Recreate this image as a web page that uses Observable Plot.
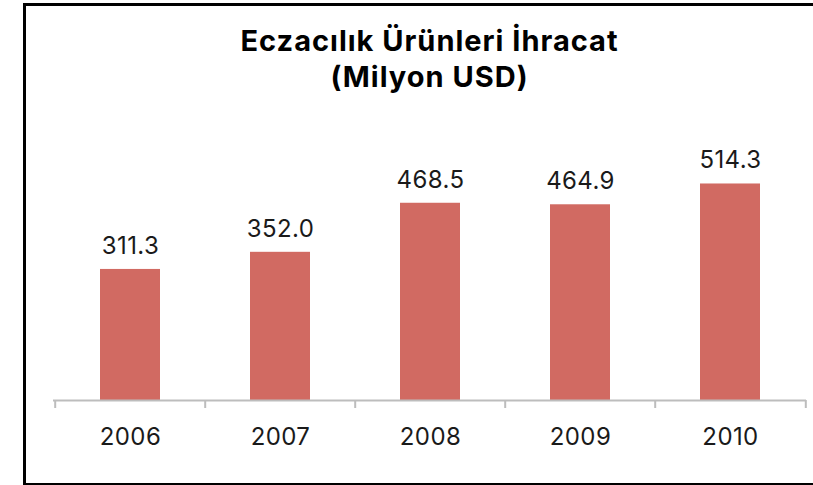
<!DOCTYPE html>
<html><head><meta charset="utf-8">
<script src="https://cdn.jsdelivr.net/npm/d3@7"></script>
<script src="https://cdn.jsdelivr.net/npm/@observablehq/plot@0.6"></script>
<style>
body{margin:0;background:#fff;overflow:hidden;}
#frame{position:absolute;left:23px;top:3px;width:800px;height:477px;border-left:3px solid #000;border-top:3px solid #000;border-bottom:2px solid #000;}
#title{position:absolute;left:53px;width:753px;top:23px;text-align:center;font-family:Inter,sans-serif;font-weight:700;font-size:29px;letter-spacing:1px;line-height:36px;color:#000;}
#chart{position:absolute;left:0;top:0;}
</style></head><body>
<div id="frame"></div>
<div id="title">Eczacılık Ürünleri İhracat<br>(Milyon USD)</div>
<div id="chart"></div>
<script>
const years = ["2006", "2007", "2008", "2009", "2010"];
const values = [311.3, 352.0, 468.5, 464.9, 514.3];
const yMax = 600;

const data = years.map((year, i) => ({year, value: values[i]}));

const W = 813, H = 485;
const mL = 53, mR = 7, mB = 85, mT = 147.4;
const step = (W - mL - mR) / years.length;
const plotH = H - mT - mB;

const chart = Plot.plot({
  width: W,
  height: H,
  marginLeft: mL,
  marginRight: mR,
  marginTop: mT,
  marginBottom: mB,
  style: {fontFamily: "Inter, sans-serif", fontSize: "24px", color: "#000", background: "transparent", letterSpacing: "0.4px"},
  x: {domain: years, paddingInner: 0.6, paddingOuter: 0.3, label: null},
  y: {domain: [0, yMax], axis: null},
  marks: [
    Plot.barY(data, {x: "year", y: "value", fill: "#d16a62"}),
    Plot.ruleY([0], {stroke: "#bdbdbd", strokeWidth: 2}),
    Plot.ruleX(years, {x: d => d, dx: -step / 2, stroke: "#bdbdbd", strokeWidth: 2, insetTop: plotH, insetBottom: -8}),
    Plot.ruleX([years[years.length - 1]], {x: d => d, dx: step / 2, stroke: "#bdbdbd", strokeWidth: 2, insetTop: plotH, insetBottom: -8}),
    Plot.text(data, {x: "year", y: "value", text: d => d.value.toFixed(1), lineAnchor: "bottom", dy: -15.5, fontSize: 24, fill: "#1a1a1a"}),
    Plot.axisX({tickSize: 0, tickPadding: 27, fontSize: 24, fill: "#1a1a1a", label: null})
  ]
});
document.getElementById("chart").appendChild(chart);
</script>
</body></html>
